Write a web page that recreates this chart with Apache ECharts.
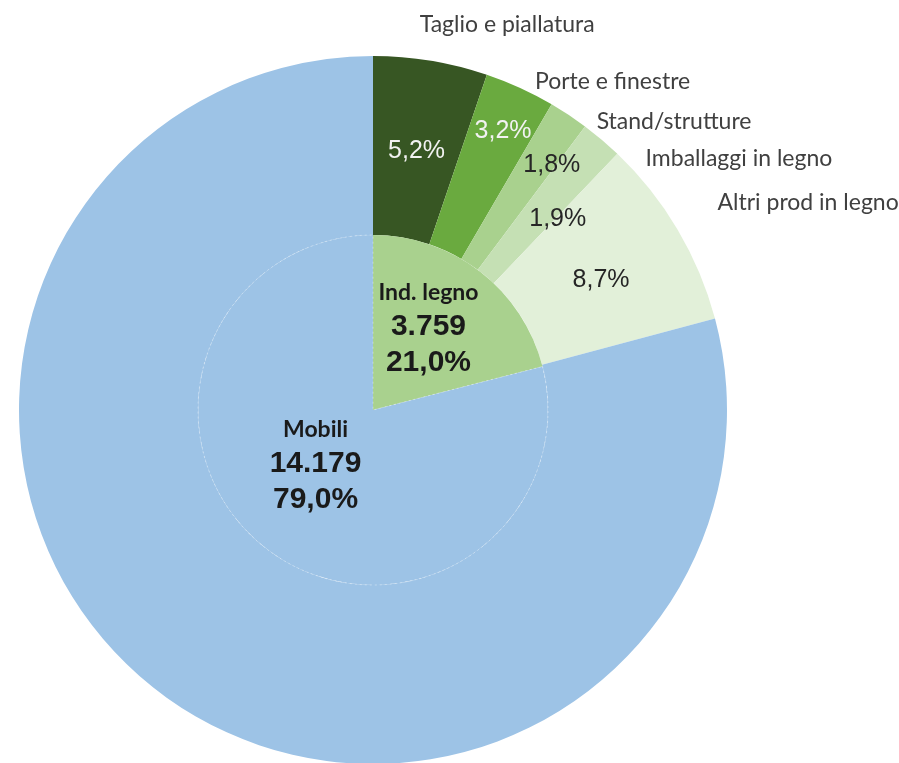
<!DOCTYPE html>
<html>
<head>
<meta charset="utf-8" />
<title>Ind. legno / Mobili</title>
<style type="text/css">
html,body{margin:0;padding:0;background:#fff}
#chart{width:899px;height:763px}
</style>
<script src="https://cdn.jsdelivr.net/npm/echarts@6/dist/echarts.min.js"></script>
</head>
<body>
<div id="chart"></div>
<script type="text/javascript">
// anello interno: macro settori
var innerNames = ['Ind. legno', 'Mobili'];
var innerCounts = [3759, 14179];
var innerShares = [21.0, 79.0];
var innerColors = ['#a9d18e', '#9dc3e6'];

// anello esterno: comparti del legno + mobili
var outerNames = ['Taglio e piallatura', 'Porte e finestre', 'Stand/strutture', 'Imballaggi in legno', 'Altri prod in legno', 'Mobili'];
var outerShares = [5.2, 3.2, 1.8, 1.9, 8.7, 79.0];
var outerColors = ['#375623', '#6aaa3f', '#a9d18e', '#c5e0b4', '#e2f0d9', '#9dc3e6'];
var outerTextColors = ['#f2f2f2', '#f2f2f2', '#262626', '#262626', '#262626', '#262626'];

// piccoli spostamenti delle etichette (come nel grafico originale)
var pctNudge = [[0, 5], [19, -36], [31, -22], [12, 13], [-2, 7], [0, 0]];
var nameNudge = [[-16, -36], [10, -6], [23, 7], [39, 19], [35, -27], [0, 0]];
var innerNudge = [[0, -10], [-2, -16]];

function fmtPct(v){
	return v.toFixed(1).replace('.', ',') + '%';
}
function fmtNum(v){
	return String(v).replace(/\B(?=(\d{3})+(?!\d))/g, '.');
}

var center = [373, 410];

var innerData = innerNames.map(function(n, i){
	return {
		name: n,
		value: innerShares[i],
		itemStyle: i == 1 ? {color: innerColors[i], borderColor: 'rgba(255,255,255,0.35)', borderWidth: 1, borderType: [2, 3]}
			: {color: innerColors[i], borderWidth: 0}
	};
});

var outerData = outerNames.map(function(n, i){
	return {
		name: n,
		value: outerShares[i],
		itemStyle: {color: outerColors[i]},
		label: {show: i < 5, color: outerTextColors[i]}
	};
});

var nameData = outerNames.map(function(n, i){
	return {
		name: n,
		value: outerShares[i],
		label: {show: i < 5}
	};
});

var option = {
	animation: false,
	backgroundColor: '#fff',
	series: [
		{
			// anello esterno colorato
			type: 'pie',
			center: center,
			radius: [175, 354],
			startAngle: 90,
			clockwise: true,
			silent: true,
			avoidLabelOverlap: false,
			itemStyle: {borderWidth: 0},
			label: {
				position: 'inside',
				fontFamily: 'Liberation Sans, Arial',
				fontSize: 25,
				formatter: function(p){ return fmtPct(p.value); }
			},
			labelLayout: function(p){
				var d = pctNudge[p.dataIndex];
				return {dx: d[0], dy: d[1]};
			},
			labelLine: {show: false},
			data: outerData
		},
		{
			// nomi dei comparti fuori dal cerchio
			type: 'pie',
			center: center,
			radius: [175, 354],
			startAngle: 90,
			silent: true,
			avoidLabelOverlap: false,
			itemStyle: {color: 'rgba(0,0,0,0)', borderWidth: 0},
			label: {
				position: 'outside',
				fontFamily: 'Lato',
				fontSize: 23,
				color: '#404040',
				formatter: '{b}'
			},
			labelLine: {show: false, length: 0, length2: 0},
			labelLayout: function(p){
				var d = nameNudge[p.dataIndex];
				return {dx: d[0], dy: d[1]};
			},
			data: nameData
		},
		{
			// torta interna
			type: 'pie',
			center: center,
			radius: [0, 175],
			startAngle: 90,
			silent: true,
			avoidLabelOverlap: false,
			label: {
				position: 'inside',
				color: '#1a1a1a',
				formatter: function(p){
					var i = p.dataIndex;
					return '{n|' + innerNames[i] + '}\n{v|' + fmtNum(innerCounts[i]) + '}\n{v|' + fmtPct(innerShares[i]) + '}';
				},
				rich: {
					n: {fontFamily: 'Lato', fontWeight: 'bold', fontSize: 23, color: '#1a1a1a', lineHeight: 33},
					v: {fontFamily: 'Liberation Sans, Arial', fontWeight: 'bold', fontSize: 30, color: '#1a1a1a', lineHeight: 36}
				}
			},
			labelLayout: function(p){
				var d = innerNudge[p.dataIndex];
				return {dx: d[0], dy: d[1]};
			},
			labelLine: {show: false},
			data: innerData
		}
	]
};

echarts.init(document.getElementById('chart')).setOption(option);
</script>
</body>
</html>
